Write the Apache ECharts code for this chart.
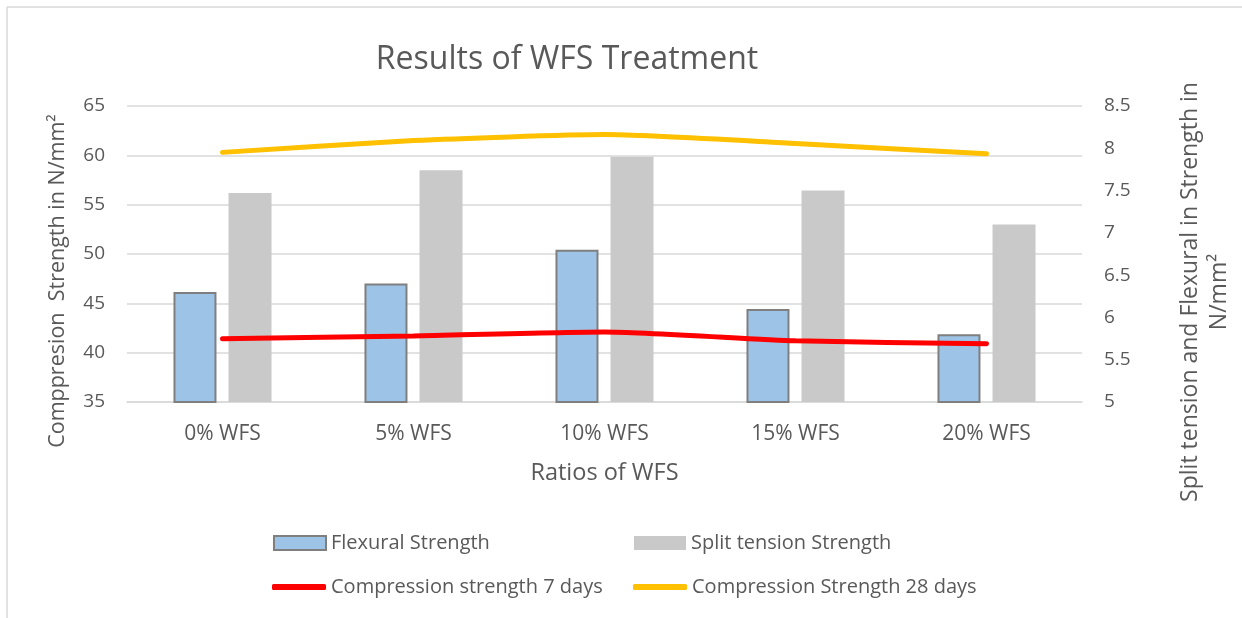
<!DOCTYPE html>
<html>
<head>
<meta charset="utf-8">
<script src="https://cdn.jsdelivr.net/npm/echarts@6/dist/echarts.min.js"></script>
<style>
  html, body { margin: 0; padding: 0; background: #fff; }
  #main { width: 1242px; height: 618px; }
</style>
</head>
<body>
<div id="main"></div>
<script>
// 数据
var categories = ['0% WFS', '5% WFS', '10% WFS', '15% WFS', '20% WFS'];
var flexural = [6.3, 6.4, 6.8, 6.1, 5.8];
var splitTension = [7.47, 7.74, 7.9, 7.5, 7.1];
var comp7 = [41.4, 41.7, 42.1, 41.2, 40.9];
var comp28 = [60.3, 61.5, 62.1, 61.2, 60.15];

var font = 'Open Sans';
var grey = '#595959';

// 图例：每项单独放，固定位置
function legendItem(name, icon, left, top, w, h) {
    return {
        data: [{ name: name, icon: icon }],
        left: left, top: top,
        padding: 0,
        itemWidth: w, itemHeight: h,
        itemGap: 0,
        itemTextGap: 9,
        textStyle: { fontFamily: font, fontSize: 20, color: grey, lineHeight: 24 }
    };
}

var myChart = echarts.init(document.getElementById('main'));

var option = {
    backgroundColor: '#fff',
    animation: false,
    textStyle: { fontFamily: font },
    title: {
        text: 'Results of WFS Treatment',
        left: 562,
        top: 39,
        textAlign: 'center',
        textStyle: { fontFamily: font, fontSize: 32, fontWeight: 'normal', color: grey }
    },
    grid: { left: 127, right: 156, top: 106, bottom: 216 },
    legend: [
        legendItem('Flexural Strength', 'rect', 273, 531, 52, 14),
        legendItem('Split tension Strength', 'rect', 634, 531, 52, 14),
        legendItem('Compression strength 7 days', 'roundRect', 272, 575, 54, 6),
        legendItem('Compression Strength 28 days', 'roundRect', 633, 575, 54, 6)
    ],
    xAxis: {
        type: 'category',
        data: categories,
        name: 'Ratios of WFS',
        nameLocation: 'middle',
        nameGap: 59,
        nameTextStyle: { fontFamily: font, fontSize: 23.5, color: grey },
        axisLine: { lineStyle: { color: '#D9D9D9', width: 1.5 } },
        axisTick: { show: false },
        axisLabel: { fontFamily: font, fontSize: 21, color: grey, margin: 22 }
    },
    yAxis: [
        {
            type: 'value',
            min: 35, max: 65, interval: 5,
            name: 'Comppresion  Strength in N/mm²',
            nameLocation: 'middle',
            nameGap: 58,
            nameTextStyle: { fontFamily: font, fontSize: 21.5, color: grey, padding: [0, 54, 0, 0] },
            axisLine: { show: false },
            axisTick: { show: false },
            axisLabel: { fontFamily: font, fontSize: 19, color: grey, margin: 22 },
            splitLine: { lineStyle: { color: '#D9D9D9', width: 1.5 } }
        },
        {
            type: 'value',
            min: 5, max: 8.5, interval: 0.5,
            name: 'Split tension and Flexural in Strength in\nN/mm²',
            nameLocation: 'middle',
            nameGap: 94,
            nameTextStyle: { fontFamily: font, fontSize: 23, color: grey, lineHeight: 29, padding: [0, 76, 0, 0] },
            axisLine: { show: false },
            axisTick: { show: false },
            axisLabel: { fontFamily: font, fontSize: 19, color: grey, margin: 22 },
            splitLine: { show: false }
        }
    ],
    series: [
        {
            name: 'Flexural Strength',
            type: 'bar',
            yAxisIndex: 1,
            data: flexural,
            barWidth: 43,
            barGap: '28%',
            itemStyle: { color: '#9DC3E6', borderColor: '#7F7F7F', borderWidth: 2 }
        },
        {
            name: 'Split tension Strength',
            type: 'bar',
            yAxisIndex: 1,
            data: splitTension,
            barWidth: 43,
            itemStyle: { color: '#C9C9C9' }
        },
        {
            name: 'Compression strength 7 days',
            type: 'line',
            yAxisIndex: 0,
            data: comp7,
            symbol: 'none',
            smooth: 0.2,
            itemStyle: { color: '#FF0000' },
            lineStyle: { color: '#FF0000', width: 5, cap: 'round' }
        },
        {
            name: 'Compression Strength 28 days',
            type: 'line',
            yAxisIndex: 0,
            data: comp28,
            symbol: 'none',
            smooth: 0.2,
            itemStyle: { color: '#FFC000' },
            lineStyle: { color: '#FFC000', width: 5, cap: 'round' }
        }
    ],
    graphic: [
        { type: 'line', shape: { x1: 7, y1: 7, x2: 1242, y2: 7 }, style: { stroke: '#D9D9D9', lineWidth: 1.5 } },
        { type: 'line', shape: { x1: 7, y1: 7, x2: 7, y2: 618 }, style: { stroke: '#D9D9D9', lineWidth: 1.5 } }
    ]
};

myChart.setOption(option);
</script>
</body>
</html>
